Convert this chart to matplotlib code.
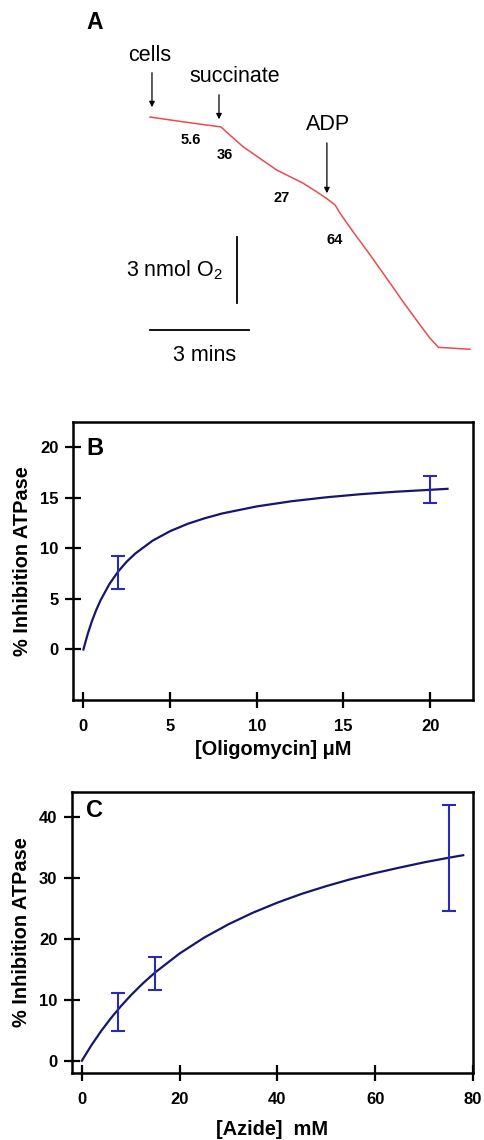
import numpy as np
import matplotlib
matplotlib.use('Agg')
import matplotlib.pyplot as plt

plt.rcParams['font.family'] = ['Liberation Sans', 'DejaVu Sans']
plt.rcParams['mathtext.fontset'] = 'custom'
plt.rcParams['mathtext.rm'] = 'Liberation Sans'
plt.rcParams['mathtext.bf'] = 'Liberation Sans:bold'

# panel A - oxygen trace (time in min, O2 in nmol)
trace_t = [0.0, 1.06, 2.15, 2.42, 2.82, 3.33, 3.84, 4.24, 4.64, 5.05, 5.35, 5.61, 5.76,
           6.15, 6.67, 7.17, 7.67, 8.18, 8.48, 8.74, 9.18, 9.70]
trace_o2 = [20.0, 19.77, 19.55, 19.18, 18.65, 18.12, 17.59, 17.29, 16.99, 16.60, 16.30, 16.0,
            15.62, 14.79, 13.73, 12.67, 11.60, 10.55, 9.95, 9.53, 9.49, 9.44]
rate_labels = ['5.6', '36', '27', '64']
rate_t = [1.24, 2.27, 4.0, 5.6]
rate_o2 = [18.95, 18.27, 16.32, 14.41]
add_labels = ['cells', 'succinate', 'ADP']
add_t = [0.06, 2.09, 5.36]
add_top = [22.14, 21.14, 18.95]
add_tip = [20.32, 19.77, 16.41]
add_text_t = [0.0, 2.58, 5.39]
add_text_o2 = [22.8, 21.82, 19.68]

# panel B - oligomycin
olig_x = [2, 20]
olig_y = [7.6, 15.8]
olig_err = [1.6, 1.35]
olig_fit_x = [0, 0.25, 0.5, 0.75, 1, 1.5, 2, 2.5, 3, 4, 5, 6, 7, 8, 10, 12, 14, 16, 18, 21]
olig_fit_y = [0, 1.54, 2.84, 3.95, 4.90, 6.47, 7.70, 8.69, 9.50, 10.77, 11.70, 12.42,
              12.98, 13.45, 14.15, 14.66, 15.05, 15.36, 15.60, 15.89]

# panel C - azide
azide_x = [7.5, 15, 75]
azide_y = [8.0, 14.35, 33.3]
azide_err = [3.05, 2.75, 8.7]
azide_fit_x = [0, 2, 4, 6, 8, 10, 12.5, 15, 20, 25, 30, 35, 40, 45, 50, 55, 60, 65, 70, 75, 78]
azide_fit_y = [0, 2.59, 4.93, 7.04, 8.96, 10.72, 12.71, 14.5, 17.6, 20.2, 22.4, 24.3,
               25.95, 27.4, 28.66, 29.8, 30.8, 31.7, 32.56, 33.31, 33.73]

W, H = 484, 1140
fig = plt.figure(figsize=(W / 100, H / 100), dpi=100)

# ---- panel A
axA = fig.add_axes([0, 1 - 380 / H, 1, 380 / H])
axA.set_xlim(-4.545, 10.12)
axA.set_ylim(8.045, 25.32)
axA.axis('off')
axA.plot(trace_t, trace_o2, color='#ec4a4c', lw=1.1)
axA.text(-1.67, 24.3, 'A', fontsize=16.5, fontweight='bold', ha='center', va='center')
for lab, t, top, tip, tt, to in zip(add_labels, add_t, add_top, add_tip, add_text_t, add_text_o2):
    axA.annotate('', xy=(t, tip), xytext=(t, top),
                 arrowprops=dict(arrowstyle='-|>', color='black', lw=0.9, mutation_scale=8))
    axA.text(tt, to, lab, fontsize=15.5, ha='center', va='center')
for lab, t, o in zip(rate_labels, rate_t, rate_o2):
    axA.text(t, o, lab, fontsize=10.5, fontweight='bold', ha='center', va='center')
# scale bars
axA.plot([2.64, 2.64], [11.55, 14.55], color='black', lw=1.3)
axA.plot([0, 3], [10.32, 10.32], color='black', lw=1.3)
axA.text(0.73, 13.05, '3 nmol O$_\\mathregular{2}$', fontsize=15.5, ha='center', va='center')
axA.text(1.64, 9.18, '3 mins', fontsize=15.5, ha='center', va='center')


def styleAxes(ax):
    for s in ax.spines.values():
        s.set_linewidth(1.8)
    ax.tick_params(direction='inout', length=11, width=1.6, labelsize=12)
    ax.tick_params(axis='x', pad=8.5)
    ax.tick_params(axis='y', pad=5)
    for lab in ax.get_xticklabels() + ax.get_yticklabels():
        lab.set_fontweight('bold')


# ---- panel B
axB = fig.add_axes([73 / W, 1 - 700 / H, 400 / W, 278 / H])
axB.plot(olig_fit_x, olig_fit_y, color='#16166e', lw=1.6)
axB.errorbar(olig_x, olig_y, yerr=olig_err, fmt='none', ecolor='#2a2ab4', elinewidth=1.5,
             capsize=4.7, capthick=1.5)
axB.set_xlim(-0.6, 22.47)
axB.set_ylim(-5, 22.5)
axB.set_xticks([0, 5, 10, 15, 20])
axB.set_yticks([0, 5, 10, 15, 20])
styleAxes(axB)
axB.set_xlabel('[Oligomycin] μM', fontsize=14.4, fontweight='bold', labelpad=4)
axB.set_ylabel('% Inhibition ATPase', fontsize=14.4, fontweight='bold', labelpad=6)
axB.text(0.055, 0.905, 'B', transform=axB.transAxes, fontsize=17, fontweight='bold',
         ha='center', va='center')

# ---- panel C
axC = fig.add_axes([72 / W, 1 - 1073 / H, 401 / W, 281 / H])
axC.plot(azide_fit_x, azide_fit_y, color='#16166e', lw=1.6)
axC.errorbar(azide_x, azide_y, yerr=azide_err, fmt='none', ecolor='#2a2ab4', elinewidth=1.5,
             capsize=4.7, capthick=1.5)
axC.set_xlim(-2, 80)
axC.set_ylim(-2, 44.1)
axC.set_xticks([0, 20, 40, 60, 80])
axC.set_yticks([0, 10, 20, 30, 40])
styleAxes(axC)
axC.set_xlabel('[Azide]  mM', fontsize=14.4, fontweight='bold', labelpad=9)
axC.set_ylabel('% Inhibition ATPase', fontsize=14.4, fontweight='bold', labelpad=6)
axC.text(0.057, 0.935, 'C', transform=axC.transAxes, fontsize=17, fontweight='bold',
         ha='center', va='center')

fig.savefig('out.png', dpi=100)
